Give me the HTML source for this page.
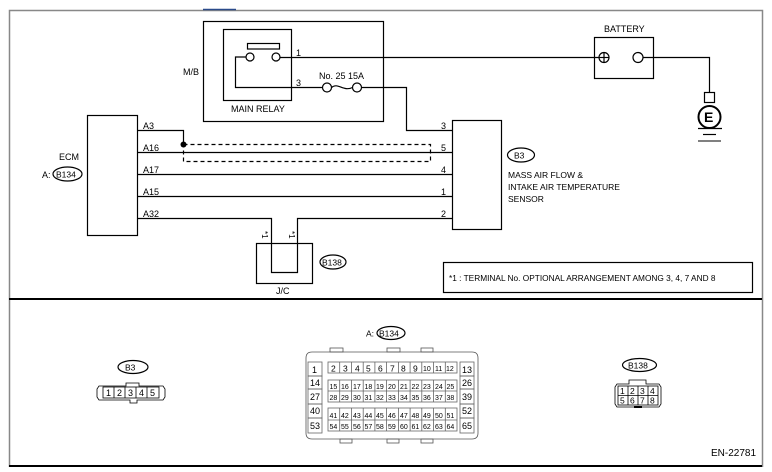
<!DOCTYPE html>
<html><head><meta charset="utf-8"><style>
html,body{margin:0;padding:0;background:#fff;}
svg{display:block;font-family:"Liberation Sans",Arial,sans-serif;}
</style></head><body>
<svg width="772" height="472" viewBox="0 0 772 472" xmlns="http://www.w3.org/2000/svg">
<rect x="0" y="0" width="772" height="472" fill="#fff"/>
<path d="M9.5 467 V10.5 H762.5 V467" fill="none" stroke="#888" stroke-width="1.5"/>
<line x1="203" y1="9.5" x2="236" y2="9.5" stroke="#2a4a8a" stroke-width="1.5"/>
<line x1="9" y1="299" x2="762" y2="299" stroke="#000" stroke-width="2"/>
<line x1="9" y1="466" x2="762" y2="466" stroke="#000" stroke-width="2"/>
<g fill="none" stroke="#000" stroke-width="1.2">
<rect x="203.5" y="21.5" width="180" height="100"/>
<rect x="223.5" y="29.5" width="68" height="71"/>
<rect x="247.5" y="43.5" width="32" height="5.5"/>
<circle cx="250" cy="57" r="4"/>
<circle cx="276" cy="57" r="4"/>
<path d="M246 57 H235.5 V87.5 H323"/>
<line x1="280" y1="57.5" x2="599" y2="57.5"/>
<circle cx="327" cy="87.5" r="4.5"/>
<circle cx="357" cy="87.5" r="4.5"/>
<path d="M331.5 87.5 C338 82,343 92,352.5 87.5"/>
<path d="M361.5 87.5 H406.5 V130.5 H452"/>
<rect x="594.5" y="37.5" width="59" height="41"/>
<circle cx="604" cy="57.5" r="5"/>
<line x1="599" y1="57.5" x2="609" y2="57.5"/>
<line x1="604" y1="52.5" x2="604" y2="62.5"/>
<circle cx="638" cy="57.5" r="5"/>
<path d="M643 57.5 H709.5 V92"/>
<rect x="704.5" y="92.5" width="10" height="10"/>
<circle cx="709.5" cy="117" r="11" stroke-width="2"/>
<line x1="698" y1="128.5" x2="722" y2="128.5"/>
<line x1="703" y1="134.5" x2="716" y2="134.5"/>
<rect x="87.5" y="115.5" width="50" height="120"/>
<rect x="452.5" y="120.5" width="49" height="109"/>
<path d="M137.5 130.5 H183.5 V144"/>
<line x1="137.5" y1="152.5" x2="452" y2="152.5"/>
<line x1="137.5" y1="174.5" x2="452" y2="174.5"/>
<line x1="137.5" y1="196.5" x2="452" y2="196.5"/>
<path d="M137.5 218.5 H271.5 V272.5 H297.5 V218.5 H452"/>
<path d="M183.5 144.5 H430.5 V161.5 H183.5 V144.5" stroke-dasharray="4,3"/>
<rect x="256.5" y="243.5" width="56" height="40"/>
<ellipse cx="333" cy="262" rx="13" ry="7"/>
<ellipse cx="521" cy="155" rx="13.5" ry="7"/>
<ellipse cx="67.5" cy="174" rx="14.5" ry="7"/>
<rect x="443.5" y="262.5" width="309" height="30"/>
<ellipse cx="133" cy="367" rx="15" ry="6.5"/>
<ellipse cx="391" cy="333" rx="14" ry="6.5"/>
<ellipse cx="639.5" cy="365" rx="17" ry="6.5"/>
</g>
<circle cx="183.5" cy="144.5" r="3" fill="#000"/>
<line x1="698" y1="141" x2="721" y2="141" stroke="#000" stroke-width="1"/>
<g font-size="9" fill="#000">
<text x="183" y="75">M/B</text>
<text x="231" y="112">MAIN RELAY</text>
<text x="296" y="56">1</text>
<text x="296" y="86">3</text>
<text x="319" y="79">No. 25  15A</text>
<text x="604" y="32">BATTERY</text>
<text x="704" y="122" font-size="14" font-weight="bold">E</text>
<text x="59" y="160">ECM</text>
<text x="42" y="178">A:</text>
<text x="56" y="177.5" font-size="8.5">B134</text>
<text x="143" y="129">A3</text>
<text x="143" y="151">A16</text>
<text x="143" y="173">A17</text>
<text x="143" y="195">A15</text>
<text x="143" y="217">A32</text>
<text x="441" y="129">3</text>
<text x="441" y="151">5</text>
<text x="441" y="173">4</text>
<text x="441" y="195">1</text>
<text x="441" y="217">2</text>
<text x="514" y="158.5" font-size="8.5">B3</text>
<text x="508" y="178" font-size="8.5">MASS AIR FLOW &amp;</text>
<text x="508" y="190" font-size="8.5">INTAKE AIR TEMPERATURE</text>
<text x="508" y="202" font-size="8.5">SENSOR</text>
<text x="322" y="265.5" font-size="8.5">B138</text>
<text x="276" y="294">J/C</text>
<text transform="translate(262,231) rotate(90)" font-size="8">*1</text>
<text transform="translate(289,231) rotate(90)" font-size="8">*1</text>
<text x="449" y="281" font-size="8.3">*1 : TERMINAL No. OPTIONAL ARRANGEMENT AMONG 3, 4, 7 AND 8</text>
<text x="125" y="370.5" font-size="8.5">B3</text>
<text x="366" y="336.5" font-size="8.5">A:</text>
<text x="379" y="336.5" font-size="8.5">B134</text>
<text x="628" y="368.5" font-size="8.5">B138</text>
<text x="711" y="456" font-size="10">EN-22781</text>
</g>
<g fill="none" stroke="#000" stroke-width="0.8">
<path d="M99 386 H126 V383 H139 V386 H163 L165 389 V397 L163 400 H137 V403 H130 V400 H99 L97 397 V389 Z"/>
<rect x="103" y="387" width="56" height="11"/>
<line x1="114" y1="387" x2="114" y2="398"/><line x1="125" y1="387" x2="125" y2="398"/>
<line x1="136" y1="387" x2="136" y2="398"/><line x1="147" y1="387" x2="147" y2="398"/>
</g>
<g font-size="9" fill="#000">
<text x="106" y="396">1</text><text x="117" y="396">2</text><text x="128" y="396">3</text><text x="139" y="396">4</text><text x="150" y="396">5</text>
</g>
<g fill="none" stroke="#000" stroke-width="0.8">
<path d="M617 384 H629 V380 H646 V384 H659 L661 387 V404 L659 407 H617 L615 404 V387 Z"/>
<rect x="618" y="386" width="40" height="19"/>
<line x1="618" y1="395.5" x2="658" y2="395.5"/>
<line x1="628" y1="386" x2="628" y2="405"/><line x1="638" y1="386" x2="638" y2="405"/><line x1="648" y1="386" x2="648" y2="405"/>
</g>
<rect x="634" y="406" width="8" height="2" fill="#000"/>
<g font-size="8.5" fill="#000">
<text x="620" y="394">1</text><text x="630" y="394">2</text><text x="640" y="394">3</text><text x="650" y="394">4</text>
<text x="620" y="403.5">5</text><text x="630" y="403.5">6</text><text x="640" y="403.5">7</text><text x="650" y="403.5">8</text>
</g>
<g fill="none" stroke="#555" stroke-width="0.8">
<path d="M312 352 H472 Q478 352 478 358 V433 Q478 439 472 439 H312 Q306 439 306 433 V358 Q306 352 312 352 Z"/>
<rect x="330" y="348" width="13" height="4"/><rect x="387" y="348" width="13" height="4"/><rect x="421" y="348" width="12" height="4"/>
<rect x="340" y="439" width="12" height="4"/><rect x="387" y="439" width="12" height="4"/><rect x="421" y="439" width="12" height="4"/>
</g>
<g fill="none" stroke="#666" stroke-width="0.8">
<rect x="308" y="362" width="14" height="14"/><rect x="308" y="376" width="14" height="13"/><rect x="308" y="389" width="14" height="15"/><rect x="308" y="404" width="14" height="14"/><rect x="308" y="418" width="14" height="15"/>
<rect x="460" y="362" width="14" height="14"/><rect x="460" y="376" width="14" height="13"/><rect x="460" y="389" width="14" height="15"/><rect x="460" y="404" width="14" height="14"/><rect x="460" y="418" width="14" height="15"/>
</g>
<g font-size="9" fill="#000">
<text x="312" y="373">1</text><text x="310" y="386">14</text><text x="310" y="400">27</text><text x="310" y="414">40</text><text x="310" y="429">53</text>
<text x="462" y="373">13</text><text x="462" y="386">26</text><text x="462" y="400">39</text><text x="462" y="414">52</text><text x="462" y="429">65</text>
</g>
<g fill="none" stroke="#666" stroke-width="0.8">
<rect x="328" y="362" width="129" height="11"/>
<rect x="328" y="380" width="129" height="22"/><line x1="328" y1="391" x2="457" y2="391"/>
<rect x="328" y="408" width="129" height="23"/><line x1="328" y1="420" x2="457" y2="420"/>
<path d="M339.7 362V373M351.5 362V373M363.2 362V373M374.9 362V373M386.6 362V373M398.4 362V373M410.1 362V373M421.8 362V373M433.5 362V373M445.3 362V373"/>
<path d="M339.7 380V402M351.5 380V402M363.2 380V402M374.9 380V402M386.6 380V402M398.4 380V402M410.1 380V402M421.8 380V402M433.5 380V402M445.3 380V402"/>
<path d="M339.7 408V431M351.5 408V431M363.2 408V431M374.9 408V431M386.6 408V431M398.4 408V431M410.1 408V431M421.8 408V431M433.5 408V431M445.3 408V431"/>
</g>
<g font-size="8.5" fill="#000">
<text x="331" y="371.5">2</text><text x="343" y="371.5">3</text><text x="355" y="371.5">4</text><text x="366" y="371.5">5</text><text x="378" y="371.5">6</text><text x="390" y="371.5">7</text><text x="401" y="371.5">8</text><text x="413" y="371.5">9</text>
<g font-size="7"><text x="423" y="371">10</text><text x="435" y="371">11</text><text x="446" y="371">12</text></g>
</g>
<g font-size="7" fill="#000">
<text x="329.5" y="389">15</text><text x="341" y="389">16</text><text x="353" y="389">17</text><text x="364.5" y="389">18</text><text x="376" y="389">19</text><text x="388" y="389">20</text><text x="400" y="389">21</text><text x="411.5" y="389">22</text><text x="423" y="389">23</text><text x="435" y="389">24</text><text x="446.5" y="389">25</text>
<text x="329.5" y="400">28</text><text x="341" y="400">29</text><text x="353" y="400">30</text><text x="364.5" y="400">31</text><text x="376" y="400">32</text><text x="388" y="400">33</text><text x="400" y="400">34</text><text x="411.5" y="400">35</text><text x="423" y="400">36</text><text x="435" y="400">37</text><text x="446.5" y="400">38</text>
<text x="329.5" y="418">41</text><text x="341" y="418">42</text><text x="353" y="418">43</text><text x="364.5" y="418">44</text><text x="376" y="418">45</text><text x="388" y="418">46</text><text x="400" y="418">47</text><text x="411.5" y="418">48</text><text x="423" y="418">49</text><text x="435" y="418">50</text><text x="446.5" y="418">51</text>
<text x="329.5" y="429">54</text><text x="341" y="429">55</text><text x="353" y="429">56</text><text x="364.5" y="429">57</text><text x="376" y="429">58</text><text x="388" y="429">59</text><text x="400" y="429">60</text><text x="411.5" y="429">61</text><text x="423" y="429">62</text><text x="435" y="429">63</text><text x="446.5" y="429">64</text>
</g>
</svg>
</body></html>
